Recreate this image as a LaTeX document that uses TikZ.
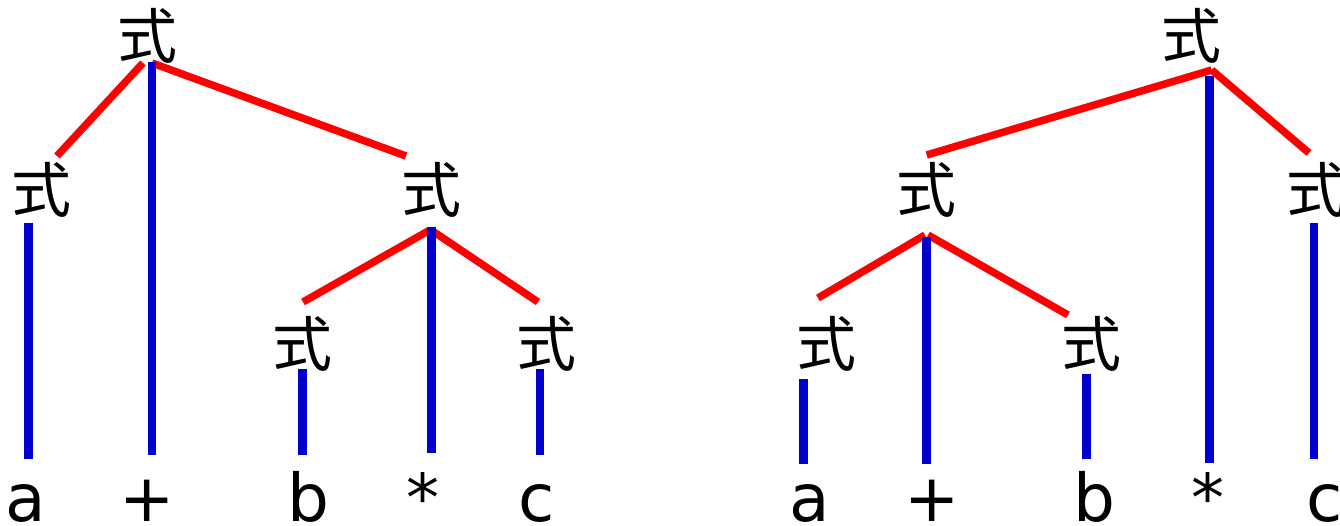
\documentclass[tikz,border=0pt]{standalone}
\usepackage{fontspec}
\setmainfont{DejaVu Sans}
\newfontfamily\cjk{Noto Sans CJK JP}
\definecolor{tred}{RGB}{255,0,0}
\definecolor{tblue}{RGB}{0,0,204}
\begin{document}
\begin{tikzpicture}[x=1pt,y=-1pt,
  nt/.style={inner sep=0pt, font=\cjk\fontsize{60}{60}\selectfont},
  leaf/.style={inner sep=0pt, anchor=base, font=\fontsize{66}{66}\selectfont},
  redl/.style={draw=tred, line width=7.5pt},
  bluel/.style={draw=tblue, line width=8.7pt}]
\useasboundingbox (0,0) rectangle (1340,526);
% ---------- left tree ----------
\node[nt] (L0) at (147,36) {式};
\node[nt] (L1) at (42,190) {式};
\node[nt] (L2) at (431,190) {式};
\node[nt] (L3) at (302,344) {式};
\node[nt] (L4) at (546,344) {式};
\node[leaf] (la) at (25.5,521) {a};
\node[leaf] (lp) at (147,521) {+};
\node[leaf] (lb) at (308,521) {b};
\node[leaf] (lm) at (423,521) {*};
\node[leaf] (lc) at (537,521) {c};
\draw[redl] ([shift={(-4,27)}]L0.center) -- ([shift={(15,-34)}]L1.center);
\draw[redl] ([shift={(5,27)}]L0.center) -- ([shift={(-25,-34)}]L2.center);
\draw[redl] ([shift={(-1,40)}]L2.center) -- ([shift={(1,-42)}]L3.center);
\draw[redl] ([shift={(0,40)}]L2.center) -- ([shift={(-8,-42)}]L4.center);
\draw[bluel] ([shift={(5,26)}]L0.center) -- ([shift={(5,-66)}]lp.base);
\draw[bluel] ([shift={(-13.7,33)}]L1.center) -- ([shift={(2.8,-62)}]la.base);
\draw[bluel] ([shift={(0.5,37)}]L2.center) -- ([shift={(8.5,-68)}]lm.base);
\draw[bluel] ([shift={(0.5,25)}]L3.center) -- ([shift={(-5.5,-66)}]lb.base);
\draw[bluel] ([shift={(-6,25)}]L4.center) -- ([shift={(3,-66)}]lc.base);
% ---------- right tree ----------
\node[nt] (R0) at (1191.5,36) {式};
\node[nt] (R1) at (926.5,190) {式};
\node[nt] (R2) at (1316,190) {式};
\node[nt] (R3) at (826.5,344) {式};
\node[nt] (R4) at (1091,344) {式};
\node[leaf] (ra) at (810,521) {a};
\node[leaf] (rp) at (932,521) {+};
\node[leaf] (rb) at (1094,521) {b};
\node[leaf] (rm) at (1208,521) {*};
\node[leaf] (rc) at (1325,521) {c};
\draw[redl] ([shift={(20.2,34)}]R0.center) -- ([shift={(0.2,-35)}]R1.center);
\draw[redl] ([shift={(20.2,34)}]R0.center) -- ([shift={(-7,-37)}]R2.center);
\draw[redl] ([shift={(-1.5,45)}]R1.center) -- ([shift={(-8.5,-46)}]R3.center);
\draw[redl] ([shift={(1.5,45)}]R1.center) -- ([shift={(-23,-29)}]R4.center);
\draw[bluel] ([shift={(18,40)}]R0.center) -- ([shift={(1.5,-58)}]rm.base);
\draw[bluel] ([shift={(0.2,47)}]R1.center) -- ([shift={(-5.3,-57)}]rp.base);
\draw[bluel] ([shift={(-22.8,35)}]R3.center) -- ([shift={(-6.3,-57)}]ra.base);
\draw[bluel] ([shift={(-4.3,30)}]R4.center) -- ([shift={(-7.3,-62)}]rb.base);
\draw[bluel] ([shift={(-2,33)}]R2.center) -- ([shift={(-11,-62)}]rc.base);
\end{tikzpicture}
\end{document}
